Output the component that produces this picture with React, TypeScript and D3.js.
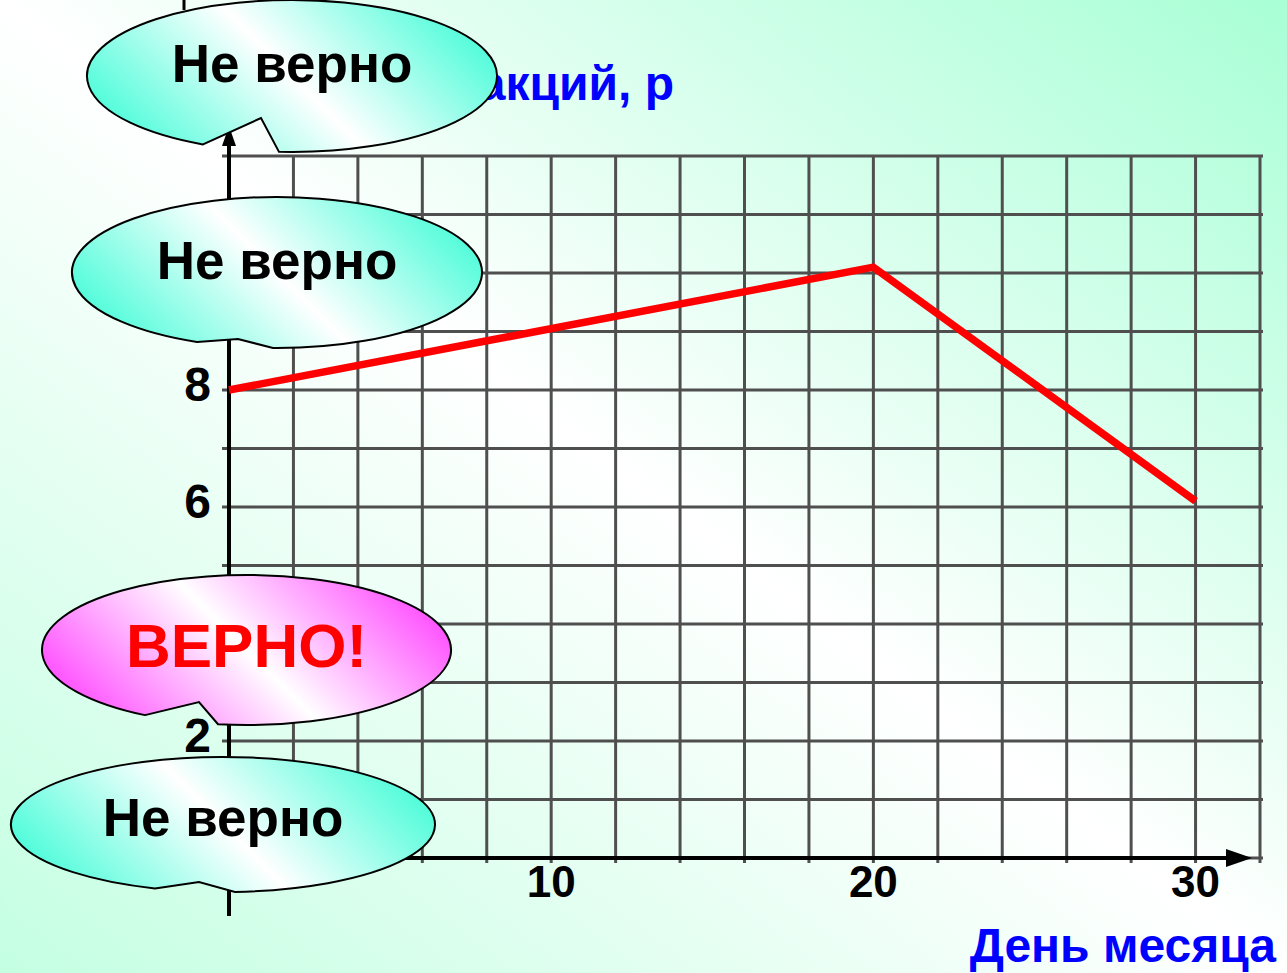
import React from "react";
import * as d3 from "d3";

// ---- data ----
const days = [0, 20, 30];
const prices = [8, 10.1, 6.1];
const xTickValues = [10, 20, 30];
const yTickValues = [2, 6, 8];
const xGridValues = d3.range(0, 33, 2);
const yGridValues = d3.range(0, 13, 1);
const yTitle = "Цена акций, р";
const xTitle = "День месяца";
const calloutTexts = ["Не верно", "Не верно", "ВЕРНО!", "Не верно"];
const calloutCorrect = [false, false, true, false];

// ---- layout ----
const W = 1287;
const H = 973;
const FONT = "'Liberation Sans', Arial, Helvetica, sans-serif";

// callout geometry: ellipse + notch (a, tip, b)
const calloutGeom = [
  { cx: 292, cy: 76, rx: 205, ry: 76, ax: 203, tx: 261, ty: 118, bx: 279, fs: 53, dy: 6 },
  { cx: 277, cy: 272.5, rx: 205, ry: 75.5, ax: 197, tx: 238, ty: 339, bx: 273, fs: 53, dy: 6 },
  { cx: 246.5, cy: 650, rx: 204.5, ry: 75, ax: 145, tx: 199, ty: 702, bx: 218, fs: 62, dy: 17 },
  { cx: 223, cy: 824.5, rx: 212, ry: 67.5, ax: 155, tx: 199, ty: 882, bx: 235, fs: 53, dy: 11 },
];

function calloutPath(g: any) {
  const yOn = (x: number) =>
    g.cy + g.ry * Math.sqrt(Math.max(0, 1 - ((x - g.cx) / g.rx) ** 2));
  const ay = yOn(g.ax);
  const by = yOn(g.bx);
  return `M${g.ax},${ay} L${g.tx},${g.ty} L${g.bx},${by} A${g.rx},${g.ry} 0 1 0 ${g.ax},${ay} Z`;
}

export default function App() {
  const x = d3.scaleLinear().domain([0, 32]).range([229, 1260]);
  const y = d3.scaleLinear().domain([0, 12]).range([858, 156]);

  const line = d3
    .line<number>()
    .x((_, i) => x(days[i]))
    .y((d) => y(d));

  const x0 = x(0);
  const y0 = y(0);

  return (
    <svg
      width={W}
      height={H}
      viewBox={`0 0 ${W} ${H}`}
      style={{ position: "absolute", left: 0, top: 0, display: "block" }}
    >
      <defs>
        <linearGradient id="bg" x1="0" y1="1" x2="1" y2="0">
          <stop offset="0" stopColor="#c4ffe2" />
          <stop offset="0.5" stopColor="#ffffff" />
          <stop offset="1" stopColor="#a8ffd6" />
        </linearGradient>
        {calloutGeom.map((g, i) => {
          const d = 125;
          const col = calloutCorrect[i] ? "#ff3cff" : "#3cfcd6";
          return (
            <linearGradient
              key={i}
              id={`cg${i}`}
              gradientUnits="userSpaceOnUse"
              x1={g.cx - d}
              y1={g.cy + d}
              x2={g.cx + d}
              y2={g.cy - d}
            >
              <stop offset="0" stopColor={col} />
              <stop offset="0.5" stopColor="#ffffff" />
              <stop offset="1" stopColor={col} />
            </linearGradient>
          );
        })}
      </defs>

      <rect x={0} y={0} width={W} height={H} fill="url(#bg)" />

      {/* grid */}
      <g stroke="#4f4f4f" strokeWidth={3}>
        {yGridValues.map((v) => (
          <line key={`h${v}`} x1={222} x2={1263} y1={y(v)} y2={y(v)} />
        ))}
        {xGridValues.map((v) => (
          <line key={`v${v}`} x1={x(v)} x2={x(v)} y1={y(12) - 1} y2={y(0) + 5} />
        ))}
      </g>

      {/* axes */}
      <g stroke="#000" strokeWidth={4}>
        <line x1={x0} x2={x0} y1={916} y2={140} />
        <line x1={x0} x2={1230} y1={y0} y2={y0} />
        <line x1={184} x2={184} y1={0} y2={10} strokeWidth={3} />
      </g>
      <path d={`M${x0},126 L${x0 - 7},146 L${x0 + 7},146 Z`} fill="#000" />
      <path d={`M1252,${y0} L1226,${y0 - 9} L1226,${y0 + 9} Z`} fill="#000" />

      {/* data line */}
      <path
        d={line(prices) || ""}
        fill="none"
        stroke="#ff0000"
        strokeWidth={7.5}
        strokeLinejoin="miter"
      />

      {/* tick labels */}
      <g fontFamily={FONT} fontWeight="bold" fill="#000">
        {xTickValues.map((v) => (
          <text key={`xt${v}`} x={x(v)} y={897} fontSize={44} textAnchor="middle">
            {v}
          </text>
        ))}
        {yTickValues.map((v) => (
          <text key={`yt${v}`} x={211} y={y(v) + 11} fontSize={48} textAnchor="end">
            {v}
          </text>
        ))}
      </g>

      {/* axis titles */}
      <text
        x={674}
        y={100}
        fontFamily={FONT}
        fontWeight="bold"
        fontSize={48}
        fill="#0000ff"
        textAnchor="end"
      >
        {yTitle}
      </text>
      <text
        x={1276}
        y={962}
        fontFamily={FONT}
        fontWeight="bold"
        fontSize={48}
        fill="#0000ff"
        textAnchor="end"
      >
        {xTitle}
      </text>

      {/* callouts */}
      {calloutGeom.map((g, i) => (
        <g key={`c${i}`}>
          <path d={calloutPath(g)} fill={`url(#cg${i})`} stroke="#000" strokeWidth={2} />
          <text
            x={g.cx}
            y={g.cy + g.dy}
            fontFamily={FONT}
            fontWeight="bold"
            fontSize={g.fs}
            fill={calloutCorrect[i] ? "#ff0000" : "#000"}
            textAnchor="middle"
          >
            {calloutTexts[i]}
          </text>
        </g>
      ))}
    </svg>
  );
}
